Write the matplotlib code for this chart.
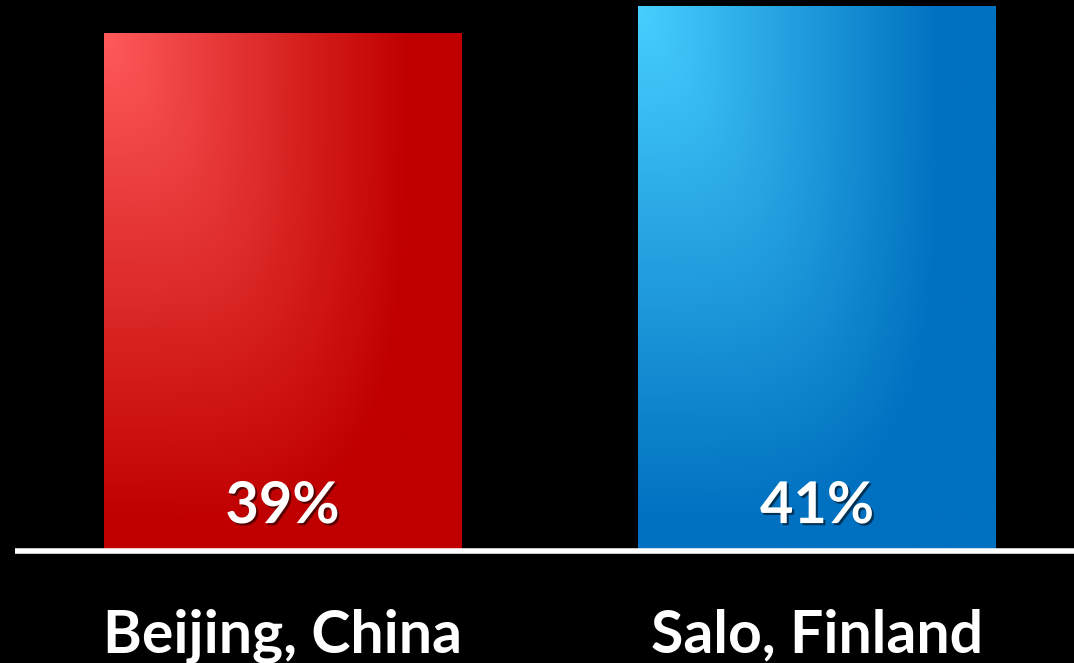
import numpy as np
import matplotlib
matplotlib.use('Agg')
import matplotlib.pyplot as plt
import matplotlib.patheffects as pe
from matplotlib.colors import to_rgb

cities = ['Beijing, China', 'Salo, Finland']
shares = [39, 41]
labels = ['39%', '41%']
light = ['#FF5A5A', '#47CFFF']
dark = ['#C00000', '#0070C0']

plt.rcParams['font.family'] = ['Lato', 'DejaVu Sans']

fig = plt.figure(figsize=(10.74, 6.63), dpi=100, facecolor='black')
ax = fig.add_axes([15/1074, 112/663, 1059/1074, 551/663])
ax.set_facecolor('black')
ax.axis('off')

w = 0.669
bars = ax.bar(range(len(shares)), shares, width=w, color='none', zorder=2)

# shading: light in the top-left corner, dark to the right and bottom
n = 300
u, v = np.meshgrid(np.linspace(0, 1, n), np.linspace(0, 1, n))
d = ((u / 0.85) ** 4 + (v / 0.95) ** 4) ** 0.25
t = np.clip(d, 0, 1)[..., None]

for i, b in enumerate(bars):
    c0 = np.array(to_rgb(light[i]))
    c1 = np.array(to_rgb(dark[i]))
    img = c0 * (1 - t) + c1 * t
    x0, y0 = b.get_x(), b.get_y()
    im = ax.imshow(img, extent=[x0, x0 + b.get_width(), y0, y0 + b.get_height()],
                   origin='upper', aspect='auto', zorder=1, interpolation='bilinear')
    im.set_clip_path(b)

ax.set_xlim(-0.5005, 1.4808)
ax.set_ylim(0, 41.46)

ax.axhline(0, color='white', lw=4, zorder=3, clip_on=False, solid_capstyle='butt')

shadow = [pe.SimplePatchShadow(offset=(1.5, -1.5), shadow_rgbFace='black', alpha=0.55), pe.Normal()]
for i, s in enumerate(labels):
    ax.text(i, 2.1, s, ha='center', va='baseline', color='white', fontsize=41.5,
            fontweight='bold', zorder=4, path_effects=shadow)
    ax.text(i, -7.67, cities[i], ha='center', va='baseline', color='white', fontsize=42.5,
            fontweight='bold', clip_on=False)

fig.savefig('out.png', dpi=100, facecolor='black')
